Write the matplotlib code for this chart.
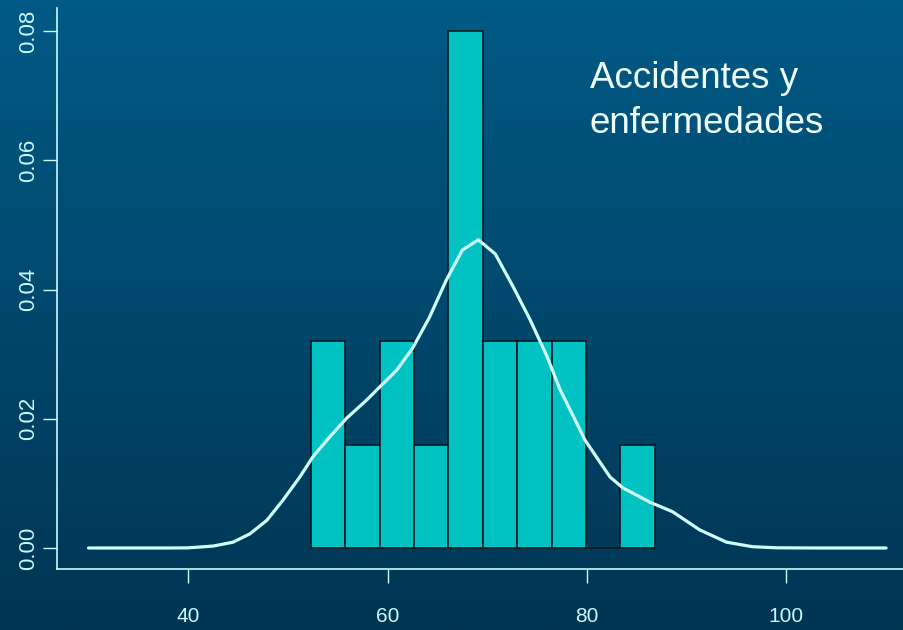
import matplotlib
matplotlib.use("Agg")
import matplotlib.pyplot as plt
import numpy as np
from matplotlib.colors import LinearSegmentedColormap

# Histogram data (density)
bin_edges = [52.3, 55.75, 59.2, 62.65, 66.1, 69.55, 73.0, 76.45, 79.9, 83.35, 86.8]
densities = [0.032, 0.016, 0.032, 0.016, 0.080, 0.032, 0.032, 0.032, 0.0, 0.016]

# Density curve
kde_x = [30, 34, 38, 40, 42.5, 44.5, 46.2, 47.9, 49.5, 51.2, 52.5, 54.2, 55.9, 57.9,
         59.2, 60.9, 62.5, 64.2, 65.9, 67.5, 69.1, 70.8, 72.6, 74.3, 76.0, 77.3, 78.3,
         79.8, 82.3, 83.6, 86.3, 88.6, 91.3, 94.0, 96.6, 99, 103, 110]
kde_y = [0, 0, 0, 0.00002, 0.0003, 0.0009, 0.0022, 0.0043, 0.0074, 0.0110, 0.0141,
         0.0172, 0.0201, 0.0229, 0.0249, 0.0275, 0.0309, 0.0357, 0.0415, 0.0461, 0.0477,
         0.0455, 0.0404, 0.0353, 0.0296, 0.0245, 0.0214, 0.0167, 0.0110, 0.0093, 0.0071,
         0.0056, 0.0028, 0.0009, 0.0002, 0.00003, 0, 0]

x_ticks = [40, 60, 80, 100]
y_ticks = [0.00, 0.02, 0.04, 0.06, 0.08]
y_labels = ["0.00", "0.02", "0.04", "0.06", "0.08"]
title_lines = ["Accidentes y", "enfermedades"]

fg = "#C8FAFA"
plt.rcParams['font.family'] = ['Liberation Sans', 'DejaVu Sans']

fig = plt.figure(figsize=(9.04, 6.30), dpi=100)
# gradient background
bg = fig.add_axes([0, 0, 1, 1], zorder=-10)
cmap = LinearSegmentedColormap.from_list("bg", ["#005A86", "#003553"])
grad = np.linspace(0, 1, 256).reshape(-1, 1)
bg.imshow(grad, aspect='auto', cmap=cmap, extent=[0, 1, 0, 1])
bg.axis('off')

ax = fig.add_axes([57/904, 61/630, 1 - 57/904, (569-8)/630])
ax.patch.set_alpha(0)

widths = np.diff(bin_edges)
ax.bar(bin_edges[:-1], densities, width=widths, align='edge',
       color="#00C2C2", edgecolor="#0A1A24", linewidth=1.2, zorder=2)
ax.plot(kde_x, kde_y, color="#CFFFFF", linewidth=2.3, zorder=3,
        solid_capstyle='round', solid_joinstyle='round')

px = 9.97
ax.set_xlim(30 - (88.5-57)/px, 30 + (904-88.5)/px)
ax.set_ylim(-(569-548)/6462, 0.08 + (31-8)/6462)

for s in ['top', 'right']:
    ax.spines[s].set_visible(False)
for s in ['left', 'bottom']:
    ax.spines[s].set_color(fg)
    ax.spines[s].set_linewidth(1.2)

ax.set_xticks(x_ticks)
ax.set_xticklabels([str(t) for t in x_ticks])
ax.set_yticks(y_ticks)
ax.set_yticklabels(y_labels, rotation=90, va='center')
ax.tick_params(axis='both', colors=fg, labelcolor=fg, length=10, width=1)
ax.tick_params(axis='x', pad=17, labelsize=15)
ax.tick_params(axis='y', pad=3, labelsize=16)

fig.text(590/904, 1 - 88/630, title_lines[0], color="#F2FFFF", fontsize=26.5,
         va='baseline', ha='left')
fig.text(590/904, 1 - 133/630, title_lines[1], color="#F2FFFF", fontsize=26.5,
         va='baseline', ha='left')

fig.savefig("out.png", dpi=100)
